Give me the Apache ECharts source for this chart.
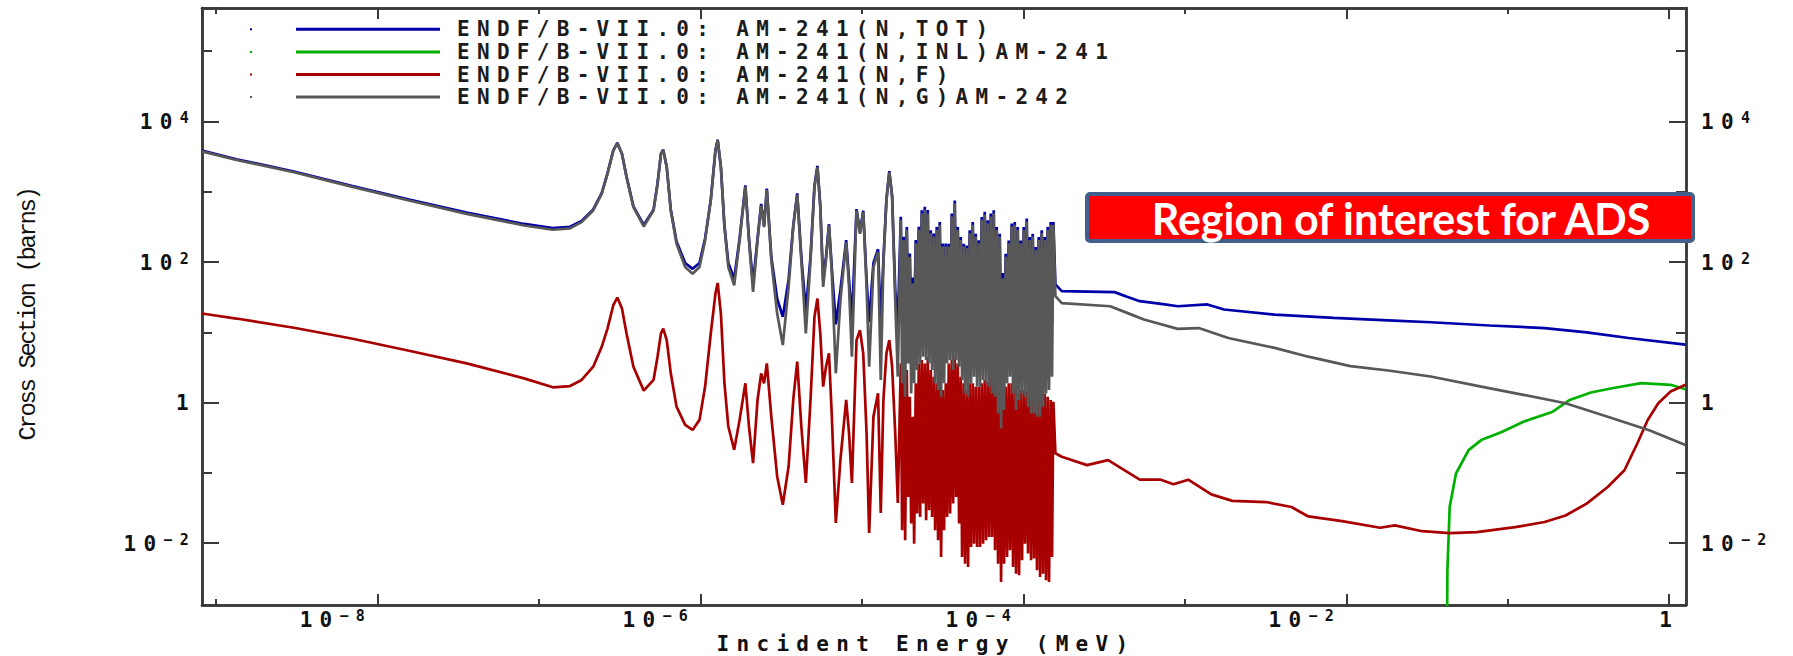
<!DOCTYPE html>
<html>
<head>
<meta charset="utf-8">
<script src="https://cdn.jsdelivr.net/npm/echarts@6.0.0/dist/echarts.min.js"></script>
<style>
html,body{margin:0;padding:0;background:#fff;}
#chart{width:1793px;height:656px;}
#chart text[style*="DejaVu Sans Mono"], #chart text[font-family*="DejaVu Sans Mono"]{letter-spacing:7.3px;}
#chart text[style*="Liberation Mono"], #chart text[font-family*="Liberation Mono"]{letter-spacing:-2.4px;}
</style>
</head>
<body>
<div id="chart"></div>
<script>
// ---------- data (energies in MeV, cross sections in barns) ----------
const seriesNames = [
  'ENDF/B-VII.0: AM-241(N,TOT)',
  'ENDF/B-VII.0: AM-241(N,INL)AM-241',
  'ENDF/B-VII.0: AM-241(N,F)',
  'ENDF/B-VII.0: AM-241(N,G)AM-242'
];
const xTitle = 'Incident Energy (MeV)';
const yTitle = 'Cross Section (barns)';
const regionNote = 'Region of interest for ADS';
const xRange = [8.2e-10, 1.27];
const yRange = [1.32e-3, 4.11e5];

// thermal + first resolved resonances
const energyLow = [8.20e-10,1.34e-9,3.04e-9,6.91e-9,1.57e-8,3.57e-8,8.10e-8,1.22e-7,1.56e-7,1.84e-7,2.17e-7,2.45e-7,2.66e-7,2.89e-7,3.06e-7,3.27e-7,3.49e-7,3.85e-7,4.46e-7,5.13e-7,5.43e-7,5.70e-7,5.89e-7,6.19e-7,6.56e-7,7.12e-7,8.05e-7,8.95e-7,9.88e-7,1.07e-6,1.16e-6,1.24e-6,1.28e-6,1.34e-6,1.41e-6,1.49e-6,1.62e-6];
const totalLow   = [3850,2900,1940,1215,775,505,348,304,317,385,560,955,1820,3880,4950,3480,1640,620,336,556,1310,3470,3960,2250,556,196,97,80,97,216,765,3880,5500,2260,328,97,58];
const captureLow = [3750,2830,1890,1180,750,485,331,288,301,369,541,931,1790,3840,4880,3440,1610,603,321,541,1290,3440,3920,2230,541,182,84.9,68.3,84.9,203,750,3840,5430,2230,313,84.9,46.7];
const fissionLow = [18.5,15.7,11.6,8.17,5.47,3.61,2.21,1.65,1.72,2.10,3.24,6.22,11.3,24.3,31.2,21.8,9.62,3.24,1.48,2.10,4.49,9.62,11.3,7.74,2.61,0.877,0.482,0.409,0.568,1.69,9.62,35.6,50.4,18.5,1.88,0.457,0.213];

// separated resonances
const energySparse = [1.75e-6,1.90e-6,2.00e-6,2.12e-6,2.26e-6,2.38e-6,2.48e-6,2.58e-6,2.75e-6,2.99e-6,3.24e-6,3.52e-6,3.76e-6,3.98e-6,4.22e-6,4.50e-6,4.81e-6,5.09e-6,5.31e-6,5.53e-6,5.76e-6,6.00e-6,6.26e-6,6.52e-6,6.90e-6,7.37e-6,8.00e-6,8.33e-6,8.68e-6,9.27e-6,9.74e-6,1.02e-5,1.07e-5,1.11e-5,1.18e-5,1.26e-5,1.31e-5,1.36e-5,1.42e-5,1.48e-5,1.54e-5,1.61e-5,1.67e-5];
const totalSparse   = [215,1230,215,49,215,670,326,1110,118,30,16.6,56,326,945,118,20,118,1220,2330,630,56,118,345,80,13,40,205,56,15,565,265,535,56,14,97,152,13,107,780,1970,870,40,13];
const captureSparse = [203,1180,203,37.5,203,636,313,1060,106,18.5,6.58,44.2,313,902,106,9.62,106,1160,2230,603,44.2,106,331,68.3,2.61,28.6,192,44.2,4.49,541,252,512,44.2,3.24,84.9,139,2.10,94.6,750,1890,836,28.6,2.34];
const fissionSparse = [0.568,1.88,0.457,0.138,1.09,2.61,1.88,3.61,0.633,0.0891,0.0353,0.124,1.09,3.82,0.457,0.0718,1.09,16.6,30.2,9.62,1.69,3.24,5.01,0.633,0.0194,0.154,1.09,0.367,0.0718,7.74,10.7,5.01,0.367,0.0140,0.633,1.36,0.0269,1.09,5.01,7.74,3.24,0.367,0.0373];

// dense resonance forest up to the end of the resolved range
const energyDense = [1.743e-5,1.776e-5,1.819e-5,1.854e-5,1.899e-5,1.935e-5,1.982e-5,2.020e-5,2.068e-5,2.108e-5,
  2.158e-5,2.200e-5,2.253e-5,2.296e-5,2.351e-5,2.396e-5,2.454e-5,2.501e-5,2.561e-5,2.610e-5,
  2.673e-5,2.724e-5,2.789e-5,2.843e-5,2.911e-5,2.967e-5,3.038e-5,3.096e-5,3.171e-5,3.232e-5,
  3.310e-5,3.373e-5,3.454e-5,3.520e-5,3.605e-5,3.674e-5,3.762e-5,3.835e-5,3.927e-5,4.002e-5,
  4.098e-5,4.177e-5,4.277e-5,4.359e-5,4.464e-5,4.550e-5,4.659e-5,4.749e-5,4.863e-5,4.956e-5,
  5.075e-5,5.172e-5,5.297e-5,5.398e-5,5.528e-5,5.634e-5,5.769e-5,5.880e-5,6.022e-5,6.137e-5,
  6.285e-5,6.405e-5,6.559e-5,6.685e-5,6.846e-5,6.977e-5,7.145e-5,7.282e-5,7.457e-5,7.600e-5,
  7.783e-5,7.932e-5,8.122e-5,8.278e-5,8.477e-5,8.640e-5,8.848e-5,9.018e-5,9.234e-5,9.411e-5,
  9.637e-5,9.822e-5,1.006e-4,1.025e-4,1.050e-4,1.070e-4,1.096e-4,1.117e-4,1.144e-4,1.166e-4,
  1.194e-4,1.216e-4,1.246e-4,1.270e-4,1.300e-4,1.325e-4,1.357e-4,1.383e-4,1.416e-4,1.443e-4,
  1.478e-4,1.506e-4,1.535e-4];
const totalDense = [440,13,228,12,315,15,132,12,60,13,
  205,14,318,15,545,16,610,15,548,15,
  284,14,254,13,316,12,372,12,184,13,
  183,15,182,15,490,14,750,16,316,14,
  226,13,182,12,172,12,282,13,370,13,
  252,12,204,12,438,13,520,13,392,12,
  488,12,545,12,315,11,252,11,70,11,
  131,12,203,13,352,12,372,11,316,11,
  203,12,315,12,415,11,226,11,252,11,
  164,11,226,11,282,11,226,12,316,12,
  372,13,372];
const captureDense = [398,1.88,206,1.21,287,3.61,119,1.35,49.9,1.88,
  185,2.90,287,3.61,495,4.50,552,4.03,495,3.61,
  257,2.90,230,1.88,287,1.51,338,1.21,166,1.88,
  166,3.61,166,4.03,444,2.90,680,4.03,287,3.24,
  206,2.09,166,1.35,157,1.21,257,1.88,338,2.33,
  230,1.68,185,1.68,398,2.09,470,1.88,357,1.68,
  444,1.35,495,1.21,287,0.701,230,0.429,58.8,0.782,
  119,1.88,185,2.33,320,1.35,338,0.782,287,1.09,
  185,1.35,287,1.21,377,0.872,206,0.701,230,0.701,
  149,0.628,206,0.628,257,0.872,206,1.35,287,1.51,
  338,2.33,338];
const fissionDense = [3.61,0.0153,2.33,0.0110,2.90,0.0456,1.21,0.0190,0.628,0.00986,
  1.88,0.0264,3.61,0.0236,4.03,0.0366,3.61,0.0212,4.50,0.0294,
  2.90,0.0236,2.33,0.0153,1.88,0.0110,2.90,0.00637,1.51,0.0153,
  1.88,0.0236,3.61,0.0264,4.03,0.0366,4.50,0.0456,3.61,0.0190,
  2.33,0.00637,1.88,0.00512,1.51,0.00458,1.88,0.00885,1.88,0.00986,
  1.68,0.00885,1.68,0.00885,1.88,0.00986,2.09,0.0110,1.98,0.0123,
  2.33,0.0123,2.09,0.00792,1.88,0.00512,2.09,0.00281,1.21,0.00512,
  1.68,0.00637,1.88,0.00792,1.88,0.00458,1.68,0.00369,1.35,0.00349,
  1.51,0.00570,1.51,0.00986,1.51,0.00711,1.35,0.00570,1.35,0.00604,
  1.51,0.00411,1.68,0.00330,1.51,0.00369,1.35,0.00296,1.21,0.00281,
  1.09,0.00637,1.03];

// smooth (unresolved / fast) region
const totalHighE = [1.58e-4,1.73e-4,3.67e-4,4.39e-4,5.26e-4,7.53e-4,9.04e-4,1.38e-3,1.75e-3,3.60e-3,8.35e-3,1.82e-2,3.33e-2,7.73e-2,1.69e-1,3.08e-1,5.61e-1,1.26];
const totalHigh  = [48,38.5,37.3,32,27.7,24.9,23.5,24.9,21.1,17.9,16.0,14.8,13.9,12.5,11.5,10.0,8.3,6.7];
const captureHighE = [1.58e-4,1.73e-4,3.45e-4,4.39e-4,5.58e-4,9.04e-4,1.22e-3,1.86e-3,3.60e-3,5.82e-3,1.06e-2,1.82e-2,3.33e-2,6.85e-2,1.25e-1,2.28e-1,4.16e-1,7.59e-1,1.26];
const captureHigh  = [32.7,26,23.5,18.9,15.2,11.2,11.5,8.3,6.0,4.5,3.3,2.86,2.35,1.69,1.29,0.98,0.63,0.40,0.25];
const fissionHighE = [1.58e-4,1.73e-4,2.48e-4,3.35e-4,5.26e-4,7.10e-4,8.51e-4,1.05e-3,1.46e-3,1.97e-3,3.19e-3,4.58e-3,5.82e-3,9.42e-3,1.62e-2,2.00e-2,2.95e-2,4.37e-2,6.44e-2,1.11e-1,1.69e-1,2.28e-1,3.08e-1,4.16e-1,5.28e-1,6.34e-1,7.36e-1,8.55e-1,1.02,1.26];
const fissionHigh  = [0.19,0.17,0.129,0.152,0.080,0.080,0.069,0.080,0.0495,0.040,0.0385,0.0327,0.0240,0.0206,0.0166,0.0179,0.0148,0.0139,0.0144,0.0169,0.0200,0.0248,0.0365,0.0631,0.109,0.262,0.565,0.977,1.44,1.79];
const inelasticE = [4.18e-2,4.23e-2,4.37e-2,4.78e-2,5.72e-2,6.85e-2,9.25e-2,1.25e-1,1.90e-1,2.42e-1,3.27e-1,4.42e-1,6.73e-1,1.02,1.26];
const inelastic  = [1e-4,0.0041,0.033,0.098,0.211,0.293,0.386,0.535,0.743,1.09,1.39,1.60,1.89,1.79,1.55];

// ---------- build ----------
const pairs = (xs, ys) => xs.map((x, i) => [x, ys[i]]);
const totalData = pairs(energyLow, totalLow).concat(pairs(energySparse, totalSparse), pairs(energyDense, totalDense), pairs(totalHighE, totalHigh));
const captureData = pairs(energyLow, captureLow).concat(pairs(energySparse, captureSparse), pairs(energyDense, captureDense), pairs(captureHighE, captureHigh));
const fissionData = pairs(energyLow, fissionLow).concat(pairs(energySparse, fissionSparse), pairs(energyDense, fissionDense), pairs(fissionHighE, fissionHigh));
const inelasticData = pairs(inelasticE, inelastic);

const COLORS = ['#0000aa', '#00b000', '#a80000', '#585858'];
const AXIS = '#3a3a3a';
const MONO = 'DejaVu Sans Mono';
const CELL = 19.94;      // advance of one 21px character incl. letter spacing
const SUPCELL = 16.3;    // same for the 15px exponent

function decade(v) {
  const l = Math.log10(v), p = Math.round(l);
  return Math.abs(l - p) < 1e-6 ? p : null;
}
function expToken(p) {
  const s = String(p).replace('-', '\u2212');
  return (s.length > 1 ? '{q|' : '{p|') + s + '}';
}
function xLabel(v) {
  const p = decade(v);
  if (p === null) return '';
  if (p === 0) return '{o|1}';
  return '{b|10}' + expToken(p) + '{s| }';
}
function yLabel(v) {
  const p = decade(v);
  if (p === null) return '';
  if (p === 0) return '{o|1}';
  return '{b|10}' + expToken(p);
}
const base = { fontFamily: MONO, fontWeight: 'bold', fontSize: 21, color: '#111' };
const richBase = Object.assign({ lineHeight: 22, verticalAlign: 'bottom' }, base);
const richSup = { fontFamily: MONO, fontWeight: 'bold', fontSize: 15, color: '#111', lineHeight: 15, verticalAlign: 'top' };
const richCommon = {
  b: Object.assign({}, richBase, { width: 2 * CELL }),
  o: Object.assign({}, richBase, { width: CELL }),
  p: Object.assign({}, richSup, { width: SUPCELL }),
  q: Object.assign({}, richSup, { width: 2 * SUPCELL })
};
const xRich = Object.assign({ s: Object.assign({}, richBase, { width: 83 }) }, richCommon);
const yRich = richCommon;

function xAxis(logBase, pos, len, labels) {
  const ax = {
    type: 'log', logBase: logBase, min: xRange[0], max: xRange[1], position: pos,
    axisLine: { show: true, onZero: false, lineStyle: { color: AXIS, width: 2.5 } },
    axisTick: { show: true, inside: true, length: len, lineStyle: { color: AXIS, width: 2 } },
    axisLabel: { show: false },
    splitLine: { show: false }, minorTick: { show: false }, minorSplitLine: { show: false }
  };
  if (labels) {
    ax.axisLabel = Object.assign({ show: true, margin: 3, formatter: xLabel, rich: xRich }, base);
    ax.name = xTitle;
    ax.nameLocation = 'middle';
    ax.nameGap = 31;
    ax.nameMoveOverlap = false;
    ax.nameTextStyle = Object.assign({ padding: [0, 36, 0, 0], lineHeight: 16 }, base);
  }
  return ax;
}
function yAxis(logBase, pos, len, labels) {
  const ax = {
    type: 'log', logBase: logBase, min: yRange[0], max: yRange[1], position: pos,
    axisLine: { show: true, onZero: false, lineStyle: { color: AXIS, width: 2.5 } },
    axisTick: { show: true, inside: true, length: len, lineStyle: { color: AXIS, width: 2 } },
    axisLabel: { show: false },
    splitLine: { show: false }, minorTick: { show: false }, minorSplitLine: { show: false }
  };
  if (labels) {
    ax.axisLabel = Object.assign({ show: true, formatter: yLabel, rich: yRich, margin: pos === 'left' ? 6 : 15 }, base);
  }
  if (labels && pos === 'left') {
    ax.name = yTitle;
    ax.nameLocation = 'middle';
    ax.nameRotate = 90;
    ax.nameGap = 162;
    ax.nameMoveOverlap = false;
    ax.nameTextStyle = { fontFamily: 'Liberation Mono', fontSize: 24, color: '#111', padding: [0, 16, 0, 0] };
  }
  return ax;
}

function line(name, data, color) {
  return {
    type: 'line', name: name, data: data, color: color,
    showSymbol: false, symbol: 'none', clip: true, silent: true,
    lineStyle: { color: color, width: 2.7 }, itemStyle: { color: color },
    xAxisIndex: 0, yAxisIndex: 0, animation: false
  };
}

const chart = echarts.init(document.getElementById('chart'), null, { renderer: 'svg', width: 1793, height: 656 });
chart.setOption({
  animation: false,
  backgroundColor: '#ffffff',
  grid: { left: 202, right: 107, top: 8, bottom: 51, containLabel: false, outerBoundsMode: 'none' },
  xAxis: [xAxis(10, 'bottom', 6, false), xAxis(100, 'bottom', 11, true), xAxis(10, 'top', 6, false), xAxis(100, 'top', 11, false)],
  yAxis: [yAxis(10, 'left', 10, false), yAxis(100, 'left', 17, true), yAxis(10, 'right', 10, false), yAxis(100, 'right', 17, true)],
  legend: {
    orient: 'vertical', left: 245, top: 13, itemGap: 0,
    itemWidth: 202, itemHeight: 3,
    icon: 'path://M0,0.5h2v2h-2zM46,0h144v3h-144zM202,3',
    itemStyle: { borderWidth: 0 },
    textStyle: { fontFamily: MONO, fontWeight: 'bold', fontSize: 21, color: '#1c1c1c', lineHeight: 22.6 },
    data: seriesNames
  },
  series: [
    line(seriesNames[0], totalData, COLORS[0]),
    line(seriesNames[1], inelasticData, COLORS[1]),
    line(seriesNames[2], fissionData, COLORS[2]),
    line(seriesNames[3], captureData, COLORS[3])
  ],
  graphic: [
    { type: 'rect', z: 100, shape: { x: 1087, y: 194, width: 606, height: 47, r: 3 },
      style: { fill: '#ff0000', stroke: '#41618c', lineWidth: 4 } },
    { type: 'text', z: 101, x: 1401, y: 218,
      style: { text: regionNote, fill: '#ffffff', fontFamily: 'Lato', fontWeight: 'bold', fontSize: 43, align: 'center', verticalAlign: 'middle' } }
  ]
});
</script>
</body>
</html>
